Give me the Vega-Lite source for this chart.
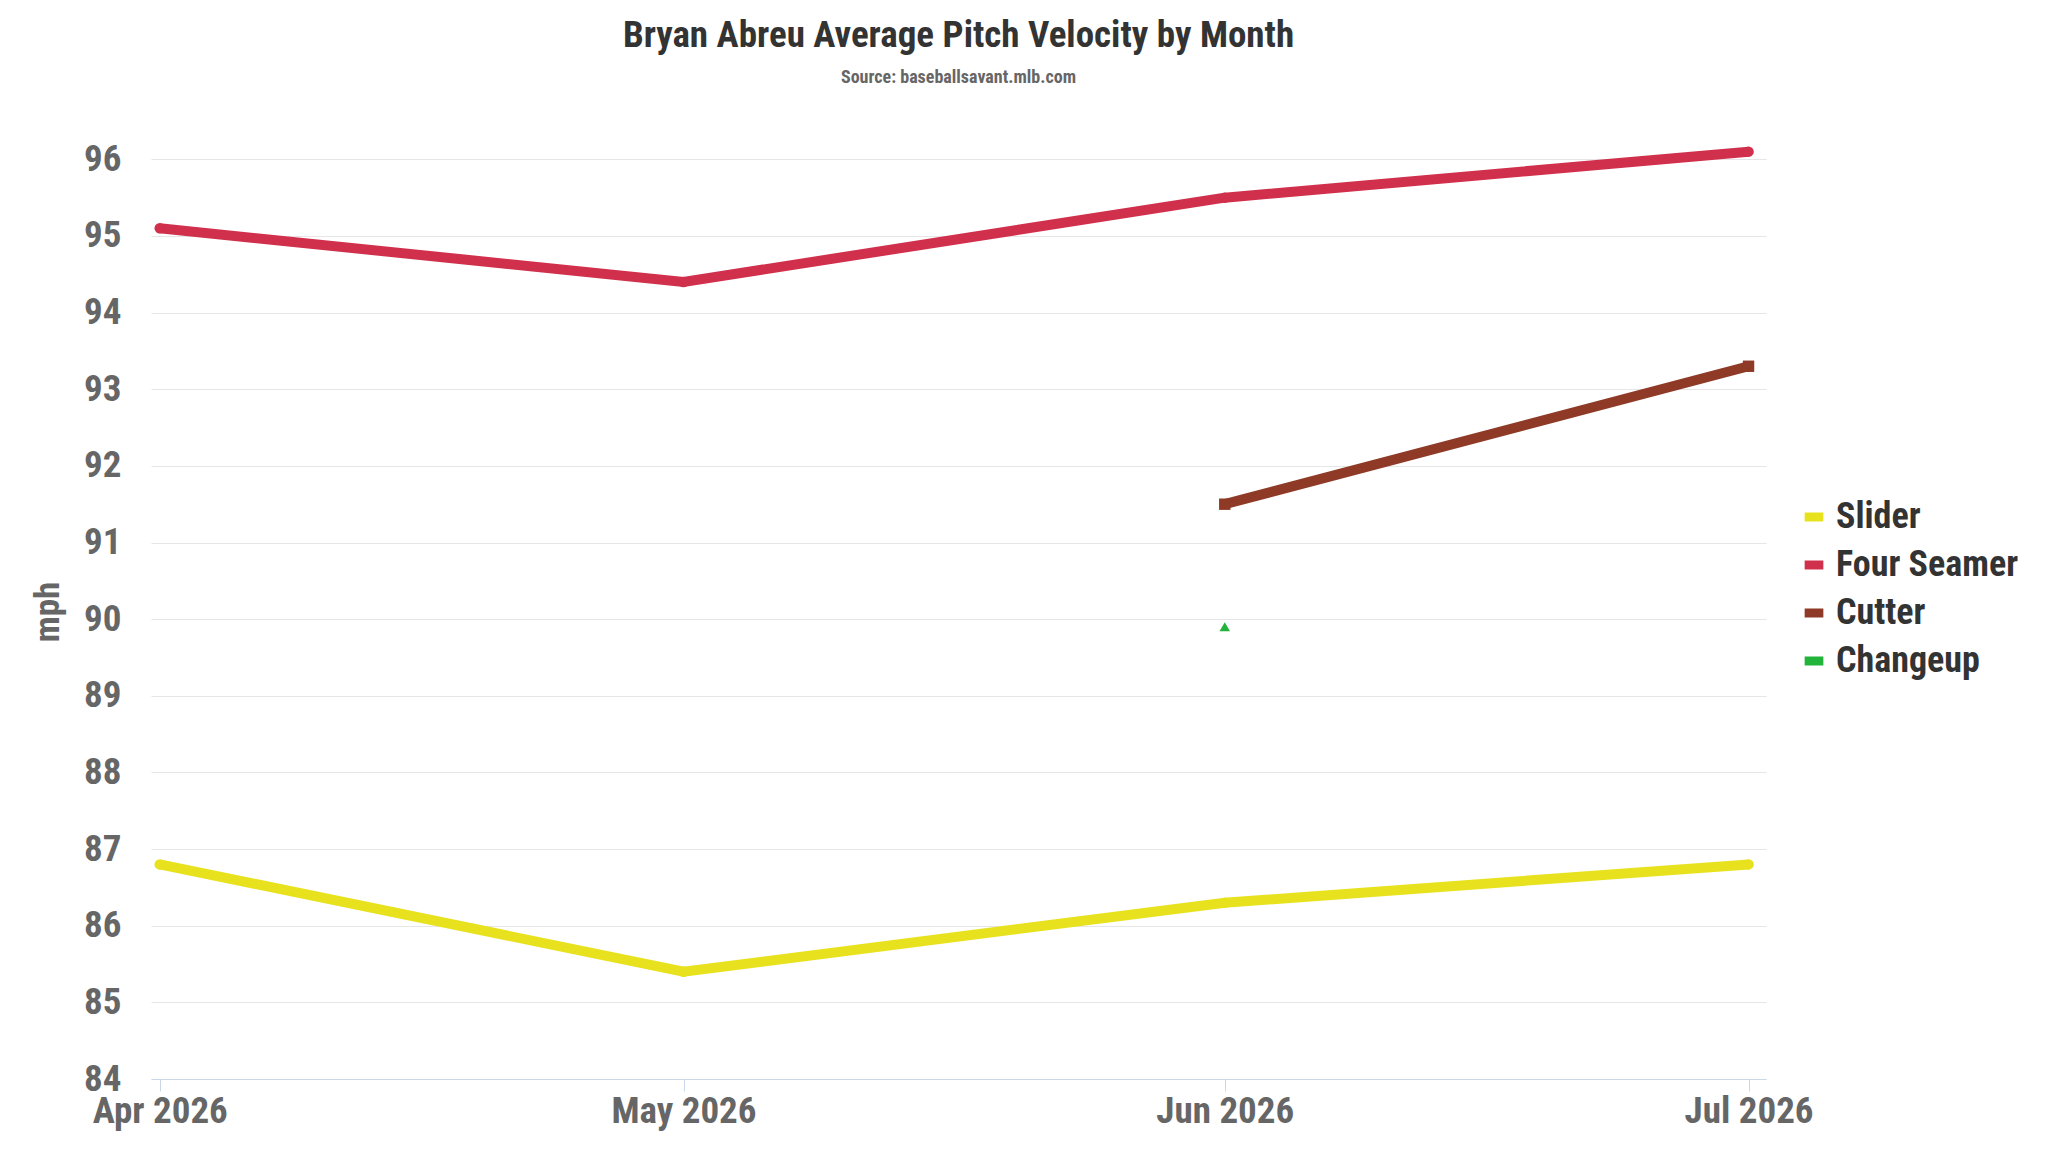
{
  "$schema": "https://vega.github.io/schema/vega-lite/v6.json",
  "width": 1615,
  "height": 935,
  "padding": {"left": 30, "top": 16, "right": 10, "bottom": 10},
  "title": {
    "text": "Bryan Abreu Average Pitch Velocity by Month",
    "subtitle": "Source: baseballsavant.mlb.com",
    "anchor": "middle",
    "font": "Roboto Condensed, Liberation Sans Narrow, Roboto",
    "fontSize": 37,
    "fontWeight": "bold",
    "color": "#333333",
    "subtitleFont": "Roboto Condensed, Liberation Sans Narrow, Roboto",
    "subtitleFontSize": 18,
    "subtitleFontWeight": "bold",
    "subtitleColor": "#666666",
    "subtitlePadding": 14,
    "offset": 44
  },
  "data": {
    "values": [
      {"month": "2026-04-01", "pitch": "Slider", "mph": 86.8},
      {"month": "2026-05-01", "pitch": "Slider", "mph": 85.4},
      {"month": "2026-06-01", "pitch": "Slider", "mph": 86.3},
      {"month": "2026-07-01", "pitch": "Slider", "mph": 86.8},
      {"month": "2026-04-01", "pitch": "Four Seamer", "mph": 95.1},
      {"month": "2026-05-01", "pitch": "Four Seamer", "mph": 94.4},
      {"month": "2026-06-01", "pitch": "Four Seamer", "mph": 95.5},
      {"month": "2026-07-01", "pitch": "Four Seamer", "mph": 96.1},
      {"month": "2026-06-01", "pitch": "Cutter", "mph": 91.5},
      {"month": "2026-07-01", "pitch": "Cutter", "mph": 93.3},
      {"month": "2026-06-01", "pitch": "Changeup", "mph": 89.9}
    ]
  },
  "encoding": {
    "x": {
      "field": "month", "type": "temporal", "title": null,
      "scale": {"domain": ["2026-03-31T12:00", "2026-07-02"]},
      "axis": {"values": ["2026-04-01", "2026-05-01", "2026-06-01", "2026-07-01"], "format": "%b %Y", "grid": false, "domainColor": "#ccd6eb", "tickColor": "#ccd6eb", "tickSize": 12, "labelPadding": 2}
    },
    "y": {
      "field": "mph", "type": "quantitative", "title": "mph",
      "scale": {"domain": [84, 96.2], "nice": false, "zero": false},
      "axis": {"values": [84, 85, 86, 87, 88, 89, 90, 91, 92, 93, 94, 95, 96], "domain": false, "ticks": false, "gridColor": "#e6e6e6", "labelPadding": 30, "titlePadding": 18}
    },
    "color": {
      "field": "pitch", "type": "nominal", "title": null,
      "scale": {"domain": ["Slider", "Four Seamer", "Cutter", "Changeup"], "range": ["#e8e21e", "#d0304c", "#8e3a27", "#22b33a"]}
    }
  },
  "layer": [
    {
      "mark": {"type": "line", "strokeWidth": 10},
      "encoding": {
        "color": {
          "field": "pitch", "type": "nominal", "title": null,
          "legend": {"orient": "none", "legendX": 1645, "legendY": 355, "symbolType": "stroke", "symbolStrokeWidth": 9, "symbolSize": 350, "labelFontSize": 36, "labelColor": "#333333", "labelFontWeight": "bold", "rowPadding": 12, "labelLimit": 400}
        }
      }
    },
    {
      "transform": [{"filter": "datum.pitch == 'Four Seamer' || datum.pitch == 'Slider'"}],
      "mark": {"type": "point", "filled": true, "opacity": 1, "shape": "circle", "size": 110}
    },
    {
      "transform": [{"filter": "datum.pitch == 'Cutter'"}],
      "mark": {"type": "point", "filled": true, "opacity": 1, "shape": "square", "size": 130}
    },
    {
      "transform": [{"filter": "datum.pitch == 'Changeup'"}],
      "mark": {"type": "point", "filled": true, "opacity": 1, "shape": "triangle-up", "size": 110}
    }
  ],
  "config": {
    "view": {"stroke": null},
    "font": "Roboto Condensed, Liberation Sans Narrow, Roboto",
    "axis": {"labelFontSize": 37, "labelFontWeight": "bold", "labelColor": "#666666", "titleFontSize": 35, "titleColor": "#666666", "titleFontWeight": "bold"}
  }
}
